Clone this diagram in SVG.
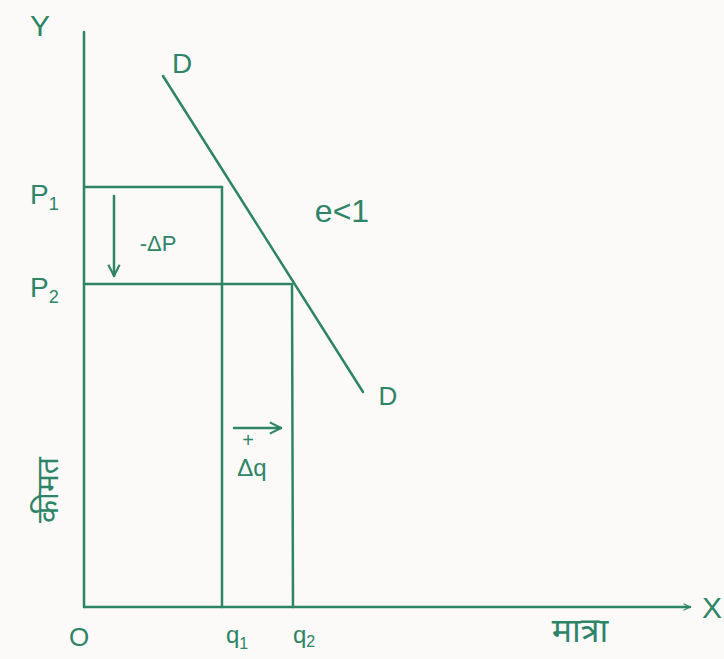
<svg xmlns="http://www.w3.org/2000/svg" width="724" height="659" viewBox="0 0 724 659">
<style>
.ln{stroke:#2e8466;stroke-width:2.5;fill:none;stroke-linecap:round}
.tx{fill:#2e8466;font-family:"Liberation Sans","Noto Sans",sans-serif}
.hi{fill:#2e8466;font-family:"Noto Sans","Noto Sans Devanagari","Lohit Devanagari",sans-serif}
</style>
<defs>
<marker id="ah" viewBox="0 0 10 10" refX="9" refY="5" markerWidth="8" markerHeight="8" orient="auto" markerUnits="userSpaceOnUse">
<path d="M1 1 L9 5 L1 9" fill="none" stroke="#2e8466" stroke-width="1.5"/>
</marker>
<marker id="ah2" viewBox="0 0 10 10" refX="9" refY="5" markerWidth="14" markerHeight="14" orient="auto" markerUnits="userSpaceOnUse">
<path d="M1 1 L9 5 L1 9" fill="none" stroke="#2e8466" stroke-width="1.5"/>
</marker>
</defs>
<rect width="724" height="659" fill="#fbfaf8"/>
<g id="connectors">
<line class="ln" x1="84" y1="32" x2="84" y2="607"/>
<line class="ln" x1="84" y1="607" x2="690" y2="607" marker-end="url(#ah)"/>
<line class="ln" x1="84" y1="187" x2="222" y2="187"/>
<line class="ln" x1="222" y1="187" x2="222" y2="607"/>
<line class="ln" x1="84" y1="284" x2="290" y2="284"/>
<line class="ln" x1="292" y1="284" x2="293" y2="607"/>
<line class="ln" x1="163" y1="76" x2="363" y2="392" stroke-width="2"/>
<line class="ln" x1="114" y1="196" x2="114" y2="276" marker-end="url(#ah2)"/>
<line class="ln" x1="234" y1="428" x2="281" y2="428" marker-end="url(#ah2)"/>
</g>
<g id="labels">
<text class="tx" x="40" y="36" font-size="30" text-anchor="middle">Y</text>
<text class="tx" x="712" y="618" font-size="30" text-anchor="middle">X</text>
<text class="tx" x="79" y="646" font-size="26" text-anchor="middle">O</text>
<text class="tx" x="182" y="73" font-size="28" text-anchor="middle">D</text>
<text class="tx" x="388" y="405" font-size="26" text-anchor="middle">D</text>
<text class="tx" x="342" y="222" font-size="32" text-anchor="middle">e&lt;1</text>
<text class="tx" x="30" y="204" font-size="28">P<tspan font-size="18" dy="6">1</tspan></text>
<text class="tx" x="30" y="297" font-size="28">P<tspan font-size="18" dy="6">2</tspan></text>
<text class="tx" x="158" y="251" font-size="22" text-anchor="middle">-ΔP</text>
<text class="tx" x="248" y="447" font-size="20" text-anchor="middle">+</text>
<text class="tx" x="252" y="476" font-size="24" text-anchor="middle">Δq</text>
<text class="tx" x="226" y="643" font-size="24">q<tspan font-size="16" dy="6">1</tspan></text>
<text class="tx" x="293" y="643" font-size="24">q<tspan font-size="16" dy="4">2</tspan></text>
<text class="hi" x="580" y="642" font-size="34" text-anchor="middle">मात्रा</text>
<text class="hi" font-size="30" text-anchor="middle" transform="translate(58,490) rotate(-90)">कीमत</text>
</g>
</svg>
